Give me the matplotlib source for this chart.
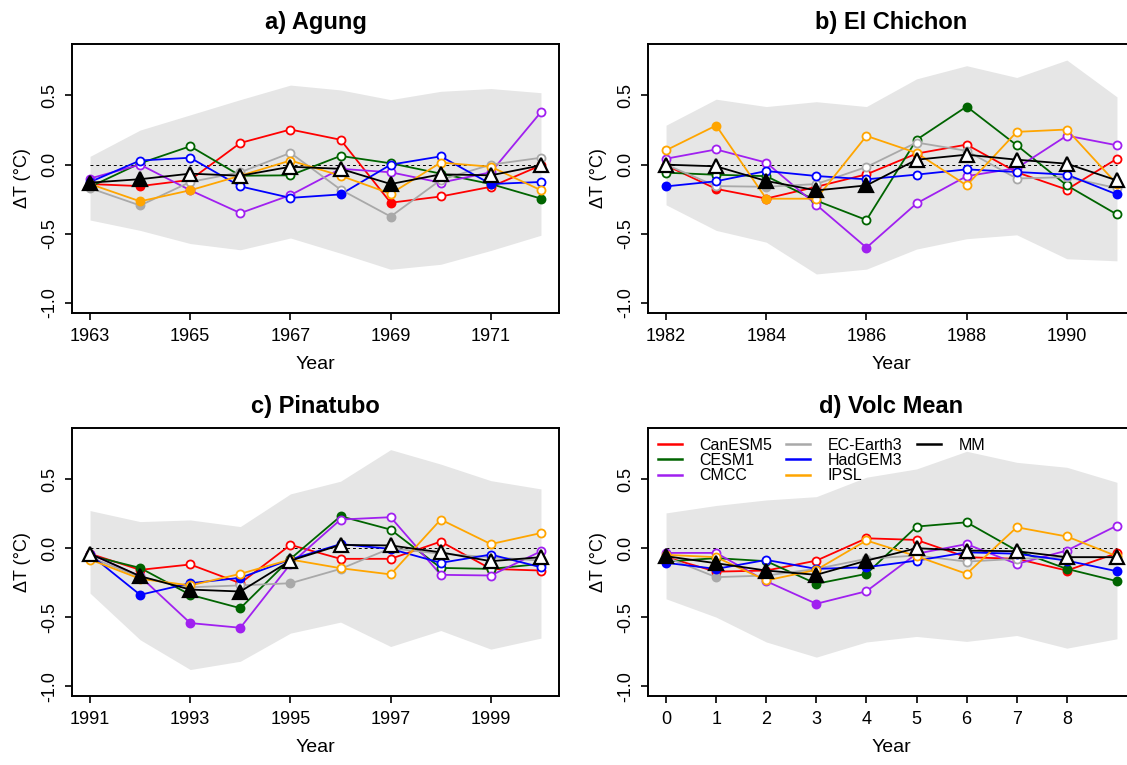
import numpy as np
import matplotlib
matplotlib.use("Agg")
import matplotlib.pyplot as plt
from matplotlib.lines import Line2D

plt.rcParams['font.family'] = ['Liberation Sans', 'DejaVu Sans']

models = ["CanESM5", "CESM1", "CMCC", "EC-Earth3", "HadGEM3", "IPSL", "MM"]
colors = ["red", "darkgreen", "#A020F0", "darkgray", "blue", "orange", "black"]

titles = ["a) Agung", "b) El Chichon", "c) Pinatubo", "d) Volc Mean"]
x_start = [1963, 1982, 1991, 0]
x_ticks = [[1963, 1965, 1967, 1969, 1971],
           [1982, 1984, 1986, 1988, 1990],
           [1991, 1993, 1995, 1997, 1999],
           [0, 1, 2, 3, 4, 5, 6, 7, 8]]

# grey ensemble spread (upper / lower)
band_hi = [
    [0.06, 0.25, 0.36, 0.47, 0.575, 0.54, 0.47, 0.53, 0.55, 0.52],
    [0.285, 0.473, 0.42, 0.455, 0.42, 0.62, 0.715, 0.63, 0.756, 0.49],
    [0.273, 0.193, 0.205, 0.157, 0.394, 0.486, 0.715, 0.61, 0.49, 0.43],
    [0.256, 0.31, 0.35, 0.374, 0.515, 0.575, 0.703, 0.623, 0.587, 0.478],
]
band_lo = [
    [-0.40, -0.475, -0.57, -0.615, -0.53, -0.64, -0.756, -0.72, -0.62, -0.51],
    [-0.29, -0.475, -0.56, -0.79, -0.755, -0.61, -0.535, -0.507, -0.68, -0.695],
    [-0.326, -0.664, -0.88, -0.82, -0.616, -0.536, -0.713, -0.597, -0.732, -0.652],
    [-0.367, -0.50, -0.68, -0.79, -0.68, -0.64, -0.676, -0.633, -0.725, -0.657],
]

agung = {
    "CanESM5":   [-0.14, -0.155, -0.11, 0.157, 0.254, 0.18, -0.275, -0.23, -0.16, -0.005],
    "CESM1":     [-0.16, 0.01, 0.133, -0.08, -0.077, 0.063, 0.01, -0.065, -0.14, -0.245],
    "CMCC":      [-0.10, 0.0, -0.185, -0.35, -0.22, -0.03, -0.055, -0.13, -0.055, 0.38],
    "EC-Earth3": [-0.17, -0.295, -0.125, -0.055, 0.085, -0.18, -0.375, -0.11, 0.0, 0.05],
    "HadGEM3":   [-0.125, 0.03, 0.05, -0.157, -0.24, -0.215, 0.0, 0.06, -0.14, -0.125],
    "IPSL":      [-0.14, -0.265, -0.185, -0.08, 0.03, -0.08, -0.21, 0.015, -0.015, -0.185],
    "MM":        [-0.13, -0.105, -0.065, -0.08, -0.015, -0.03, -0.14, -0.07, -0.077, -0.005],
}
agung_filled = {"CanESM5": [0, 1, 6], "CESM1": [0, 8, 9], "CMCC": [0, 2],
                "EC-Earth3": [0, 1, 6], "HadGEM3": [5, 8], "IPSL": [1, 2],
                "MM": [0, 1, 6]}

chichon = {
    "CanESM5":   [-0.005, -0.175, -0.245, -0.16, -0.07, 0.08, 0.145, -0.055, -0.18, 0.043],
    "CESM1":     [-0.058, -0.073, -0.083, -0.26, -0.40, 0.18, 0.42, 0.14, -0.15, -0.36],
    "CMCC":      [0.043, 0.11, 0.015, -0.29, -0.60, -0.28, -0.083, -0.025, 0.21, 0.14],
    "EC-Earth3": [0.0, -0.155, -0.16, -0.14, -0.017, 0.16, 0.10, -0.10, -0.09, -0.17],
    "HadGEM3":   [-0.157, -0.12, -0.046, -0.082, -0.106, -0.072, -0.034, -0.053, -0.072, -0.215],
    "IPSL":      [0.104, 0.283, -0.246, -0.246, 0.208, 0.085, -0.15, 0.237, 0.254, -0.14],
    "MM":        [0.0, -0.012, -0.118, -0.186, -0.15, 0.036, 0.072, 0.036, 0.007, -0.114],
}
chichon_filled = {"CanESM5": [1, 3], "CESM1": [6], "CMCC": [4], "EC-Earth3": [2],
                  "HadGEM3": [0, 9], "IPSL": [1, 2], "MM": [2, 3, 4]}

pinatubo = {
    "CanESM5":   [-0.04, -0.157, -0.118, -0.254, 0.024, -0.077, -0.077, 0.048, -0.15, -0.162],
    "CESM1":     [-0.053, -0.143, -0.338, -0.435, -0.077, 0.232, 0.135, -0.143, -0.15, -0.114],
    "CMCC":      [-0.04, -0.205, -0.543, -0.577, -0.114, 0.208, 0.225, -0.193, -0.198, -0.022],
    "EC-Earth3": [-0.065, -0.21, -0.283, -0.27, -0.254, -0.15, 0.0, -0.04, -0.065, -0.09],
    "HadGEM3":   [-0.046, -0.338, -0.254, -0.215, -0.082, 0.03, -0.005, -0.106, -0.046, -0.138],
    "IPSL":      [-0.082, -0.222, -0.27, -0.186, -0.082, -0.145, -0.19, 0.208, 0.03, 0.11],
    "MM":        [-0.04, -0.203, -0.30, -0.314, -0.09, 0.024, 0.02, -0.03, -0.094, -0.065],
}
pinatubo_filled = {"CanESM5": [3], "CESM1": [1, 2, 3, 5], "CMCC": [2, 3],
                   "EC-Earth3": [4], "HadGEM3": [1, 2, 3], "IPSL": [],
                   "MM": [1, 2, 3]}

volc_mean = {
    "CanESM5":   [-0.065, -0.17, -0.162, -0.09, 0.072, 0.06, -0.065, -0.077, -0.162, -0.036],
    "CESM1":     [-0.097, -0.072, -0.094, -0.258, -0.186, 0.157, 0.188, -0.017, -0.15, -0.239],
    "CMCC":      [-0.034, -0.034, -0.239, -0.403, -0.312, -0.04, 0.03, -0.114, -0.017, 0.164],
    "EC-Earth3": [-0.065, -0.21, -0.198, -0.15, -0.077, -0.053, -0.097, -0.077, -0.065, -0.065],
    "HadGEM3":   [-0.106, -0.15, -0.085, -0.15, -0.138, -0.09, -0.03, -0.04, -0.09, -0.167],
    "IPSL":      [-0.048, -0.065, -0.234, -0.157, 0.056, -0.058, -0.186, 0.152, 0.085, -0.058],
    "MM":        [-0.058, -0.109, -0.162, -0.193, -0.09, 0.0, -0.017, -0.022, -0.065, -0.065],
}
volc_mean_filled = {"CanESM5": [1, 8], "CESM1": [0, 3, 4, 8, 9], "CMCC": [0, 2, 3],
                    "EC-Earth3": [1], "HadGEM3": [0, 1, 3, 4, 9], "IPSL": [],
                    "MM": [0, 1, 2, 3, 4]}

panels = [(agung, agung_filled), (chichon, chichon_filled),
          (pinatubo, pinatubo_filled), (volc_mean, volc_mean_filled)]

W, H = 1127.0, 765.0
boxes = [(72, 44, 559, 313), (648, 44, 1135, 313),
         (72, 428, 559, 696), (648, 428, 1135, 696)]

fig = plt.figure(figsize=(W / 100, H / 100), dpi=100)

for k, (data, filled) in enumerate(panels):
    l, t, r, b = boxes[k]
    ax = fig.add_axes([l / W, 1 - b / H, (r - l) / W, (b - t) / H])
    x = np.arange(10) + x_start[k]

    ax.fill_between(x, band_lo[k], band_hi[k], color="#E6E6E6", lw=0, zorder=1)
    ax.plot([x[0], x[-1]], [0, 0], color="black", ls=(0, (3, 3)), lw=0.7, zorder=2)

    for m, c in zip(models, colors):
        y = np.array(data[m])
        is_mm = m == "MM"
        ax.plot(x, y, color=c, lw=1.3, zorder=5 if is_mm else 3)
        mask = np.zeros(10, bool)
        mask[filled[m]] = True
        if is_mm:
            ax.plot(x[~mask], y[~mask], ls="none", marker="^", ms=9.5, mfc="white",
                    mec="black", mew=1.6, zorder=6)
            ax.plot(x[mask], y[mask], ls="none", marker="^", ms=9.5, mfc="black",
                    mec="black", mew=1.6, zorder=6)
        else:
            ax.plot(x[~mask], y[~mask], ls="none", marker="o", ms=5.8, mfc="white",
                    mec=c, mew=1.3, zorder=4)
            ax.plot(x[mask], y[mask], ls="none", marker="o", ms=5.8, mfc=c,
                    mec=c, mew=1.3, zorder=4)

    ax.set_xlim(x[0] - 0.36, x[-1] + 0.36)
    ax.set_ylim(-1.072, 0.872)
    ax.set_xticks(x_ticks[k])
    ax.set_xticklabels([str(v) for v in x_ticks[k]])
    ax.set_yticks([-1.0, -0.5, 0.0, 0.5])
    ax.set_yticklabels(["-1.0", "-0.5", "0.0", "0.5"], rotation=90, va="center")
    ax.tick_params(direction="out", length=5, width=1.2, labelsize=13, pad=5)
    ax.tick_params(axis="x", pad=6)
    for s in ax.spines.values():
        s.set_linewidth(1.4)
    ax.set_xlabel("Year", fontsize=14, labelpad=8)
    ax.set_ylabel("\u0394T (\u00b0C)", fontsize=13, labelpad=7)
    ax.set_title(titles[k], fontsize=17, fontweight="bold", pad=11)

    if k == 3:
        handles = [Line2D([], [], color=c, lw=1.8) for c in colors]
        labels = list(models)
        # two blank slots so the columns fill 3 / 3 / 1
        handles += [Line2D([], [], lw=0, color="none")] * 2
        labels += ["", ""]
        ax.legend(handles, labels, ncol=3, loc="upper left",
                  bbox_to_anchor=(0.0, 1.0), frameon=False, fontsize=11.5,
                  handlelength=1.5, handletextpad=1.1, columnspacing=0.9,
                  labelspacing=0.02, borderaxespad=0.2)

fig.savefig("out.png", dpi=100)
